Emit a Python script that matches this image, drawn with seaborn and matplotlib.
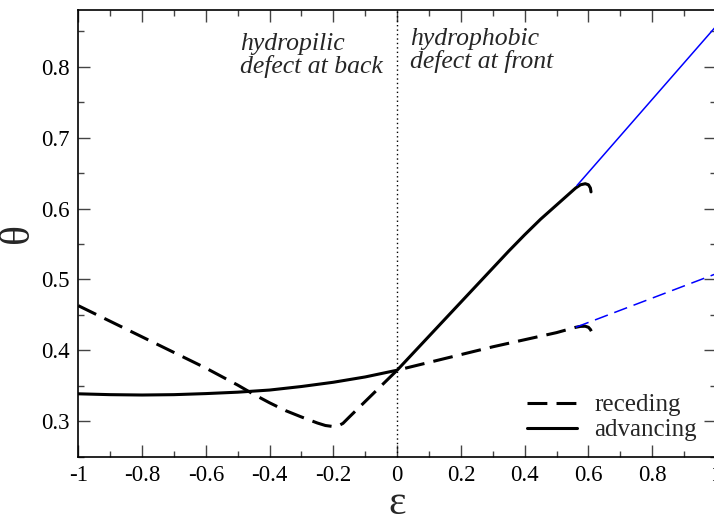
import matplotlib
matplotlib.use("Agg")
import matplotlib.pyplot as plt
from matplotlib.ticker import MultipleLocator
from matplotlib.lines import Line2D
import seaborn as sns

# advancing branch (solid), incl. the small fold at the end
adv_x = [-1.0, -0.9, -0.8, -0.7, -0.6, -0.5, -0.4, -0.3, -0.2, -0.1, 0.0,
         0.1, 0.2, 0.3, 0.35, 0.4, 0.45, 0.5, 0.53, 0.56, 0.575, 0.59, 0.6, 0.606, 0.608]
adv_y = [0.3387, 0.3375, 0.337, 0.3375, 0.339, 0.341, 0.344, 0.349, 0.355, 0.3625, 0.372,
         0.42, 0.468, 0.516, 0.540, 0.563, 0.585, 0.605, 0.617, 0.629, 0.6335, 0.635, 0.6335, 0.629, 0.6235]

# receding branch (dashed)
rec_x = [-1.0, -0.9, -0.8, -0.7, -0.6, -0.5, -0.45, -0.4, -0.35, -0.3, -0.25, -0.225, -0.2, -0.185,
         -0.17, -0.15, -0.125, -0.1, -0.05, 0.0,
         0.1, 0.2, 0.3, 0.4, 0.5, 0.56, 0.575, 0.59, 0.6, 0.606, 0.609]
rec_y = [0.463, 0.441, 0.419, 0.397, 0.375, 0.351, 0.338, 0.326, 0.315, 0.306, 0.2975, 0.294, 0.2925, 0.2935,
         0.297, 0.306, 0.317, 0.328, 0.35, 0.372,
         0.383, 0.394, 0.405, 0.415, 0.425, 0.4325, 0.4338, 0.434, 0.4325, 0.4295, 0.427]

# blue continuations
blue_adv_x = [0.564, 1.0]
blue_adv_y = [0.6325, 0.857]
blue_rec_x = [0.56, 1.0]
blue_rec_y = [0.4325, 0.508]

sns.set_style("ticks")
plt.rcParams["font.family"] = ["Liberation Serif", "DejaVu Serif"]

fig = plt.figure(figsize=(7.14, 5.22), dpi=100)
ax = fig.add_axes([78.3 / 714, 1 - 456.7 / 522, (716 - 78.3) / 714, (456.7 - 10) / 522])

dash_black = (0, (6.5, 3))
dash_blue = (0, (9, 4.5))

sns.lineplot(x=rec_x, y=rec_y, sort=False, color="black", lw=2.2, linestyle=dash_black, ax=ax)
sns.lineplot(x=adv_x, y=adv_y, sort=False, color="black", lw=2.2, ax=ax)
sns.lineplot(x=blue_adv_x, y=blue_adv_y, sort=False, color="#0000ff", lw=1.1, ax=ax)
sns.lineplot(x=blue_rec_x, y=blue_rec_y, sort=False, color="#0000ff", lw=1.1, linestyle=dash_blue, ax=ax)

ax.axvline(0, color="black", lw=1.0, linestyle=(0, (1, 2.2)))

ax.set_xlim(-1, 1)
ax.set_ylim(0.25, 0.88)
ax.xaxis.set_minor_locator(MultipleLocator(0.1))
ax.yaxis.set_minor_locator(MultipleLocator(0.05))
ax.set_xticks([-1, -0.8, -0.6, -0.4, -0.2, 0, 0.2, 0.4, 0.6, 0.8, 1])
ax.set_xticklabels(["-1", "-0.8", "-0.6", "-0.4", "-0.2", "0", "0.2", "0.4", "0.6", "0.8", "1"])
ax.set_yticks([0.3, 0.4, 0.5, 0.6, 0.7, 0.8])
ax.set_yticklabels(["0.3", "0.4", "0.5", "0.6", "0.7", "0.8"])
ax.tick_params(which="both", direction="in", top=True, right=True, colors="#444444",
               labelcolor="black", labelsize=16.5, width=1.0)
ax.tick_params(which="major", length=8.5, pad=6)
ax.tick_params(which="minor", length=4.5)
for s in ax.spines.values():
    s.set_linewidth(1.2)
    s.set_color("black")

ax.set_xlabel("ε", fontsize=30, labelpad=-1)
ax.set_ylabel("θ", fontsize=30, labelpad=3)

ax.text(-0.4925, 0.848, "hydropilic\ndefect at back", fontsize=18.5, style="italic",
        ha="left", va="top", linespacing=1.0)
ax.text(0.041, 0.855, "hydrophobic\ndefect at front", fontsize=18.5, style="italic",
        ha="left", va="top", linespacing=1.0)

handles = [Line2D([], [], color="black", lw=2.2, linestyle=dash_black),
           Line2D([], [], color="black", lw=2.2)]
ax.legend(handles, ["receding", "advancing"], loc="lower right", bbox_to_anchor=(0.998, -0.005),
          frameon=False, fontsize=18, handlelength=2.0, handletextpad=0.7,
          labelspacing=0.1, borderpad=0.2)

fig.savefig("out.png", dpi=100)
